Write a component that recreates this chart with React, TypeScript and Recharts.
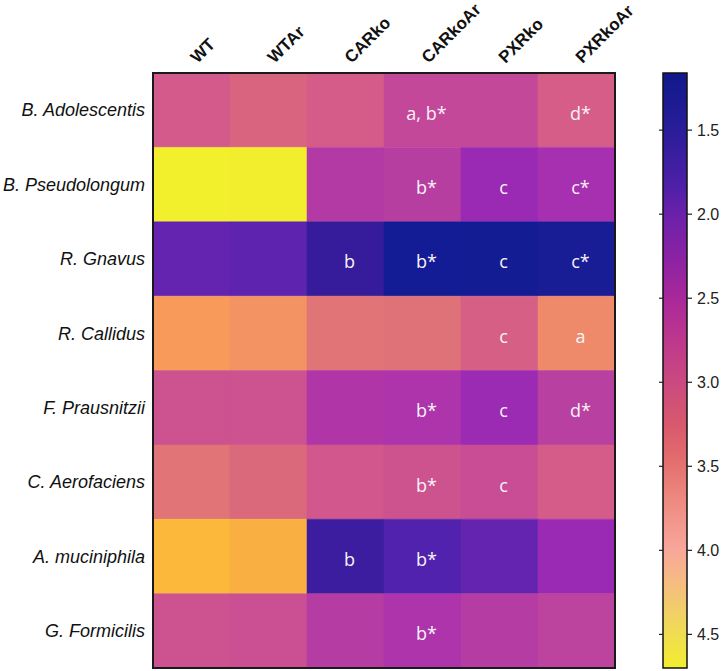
import React from 'react';
import { ComposedChart, XAxis, YAxis, ReferenceArea, Scatter } from 'recharts';

// ---- data ----
const groups = ['WT', 'WTAr', 'CARko', 'CARkoAr', 'PXRko', 'PXRkoAr'];
const species = [
  'B. Adolescentis',
  'B. Pseudolongum',
  'R. Gnavus',
  'R. Callidus',
  'F. Prausnitzii',
  'C. Aerofaciens',
  'A. muciniphila',
  'G. Formicilis',
];
const wt = [3.05, 4.8, 2.0, 4.0, 2.9, 3.5, 4.35, 2.9];
const wtAr = [3.2, 4.78, 1.95, 3.9, 2.9, 3.3, 4.25, 2.85];
const carKo = [3.08, 2.55, 1.6, 3.5, 2.5, 3.0, 1.65, 2.57];
const carKoAr = [2.7, 2.6, 1.25, 3.45, 2.45, 2.92, 1.82, 2.45];
const pxrKo = [2.7, 2.2, 1.26, 3.12, 2.22, 2.8, 2.0, 2.57];
const pxrKoAr = [3.1, 2.35, 1.3, 3.8, 2.62, 3.08, 2.2, 2.65];

const notesWt = ['', '', '', '', '', '', '', ''];
const notesWtAr = ['', '', '', '', '', '', '', ''];
const notesCarKo = ['', '', 'b', '', '', '', 'b', ''];
const notesCarKoAr = ['a, b*', 'b*', 'b*', '', 'b*', 'b*', 'b*', 'b*'];
const notesPxrKo = ['', 'c', 'c', 'c', 'c', 'c', '', ''];
const notesPxrKoAr = ['d*', 'c*', 'c*', 'a', 'd*', '', '', ''];

const colorbarTicks = [1.5, 2.0, 2.5, 3.0, 3.5, 4.0, 4.5];
const colorbarDomain = [1.16, 4.7];

// ---- styles ----
const cellStops: [number, string][] = [
  [1.25, '#131c94'],
  [1.6, '#361c9a'],
  [1.82, '#5022ae'],
  [2.0, '#6424b0'],
  [2.2, '#9a2ab4'],
  [2.35, '#a630b0'],
  [2.5, '#b036a8'],
  [2.62, '#b840a0'],
  [2.7, '#c4489a'],
  [2.9, '#cc5290'],
  [3.05, '#d45a8c'],
  [3.2, '#d8647f'],
  [3.5, '#e07476'],
  [3.8, '#ee8a6a'],
  [4.0, '#f79a5a'],
  [4.35, '#fbb83a'],
  [4.8, '#f2f02c'],
];
const barStops: [number, string][] = [
  [1.16, '#10198a'],
  [1.5, '#2a1d9a'],
  [1.8, '#4a1fa6'],
  [2.0, '#6a21aa'],
  [2.25, '#8a22a4'],
  [2.5, '#a8289a'],
  [2.75, '#bd388c'],
  [3.0, '#ca4a80'],
  [3.25, '#d8586e'],
  [3.45, '#e26c6c'],
  [3.7, '#ee8a80'],
  [4.0, '#f8a79a'],
  [4.2, '#f5bd80'],
  [4.45, '#f0d85a'],
  [4.7, '#f2ee2e'],
];

const hexToRgb = (h: string) => [
  parseInt(h.slice(1, 3), 16),
  parseInt(h.slice(3, 5), 16),
  parseInt(h.slice(5, 7), 16),
];
const colorFor = (v: number) => {
  if (v <= cellStops[0][0]) return cellStops[0][1];
  for (let i = 1; i < cellStops.length; i++) {
    const [v1, c1] = cellStops[i];
    const [v0, c0] = cellStops[i - 1];
    if (v <= v1) {
      const t = (v - v0) / (v1 - v0);
      const a = hexToRgb(c0);
      const b = hexToRgb(c1);
      const m = a.map((x, k) => Math.round(x + (b[k] - x) * t));
      return `rgb(${m[0]},${m[1]},${m[2]})`;
    }
  }
  return cellStops[cellStops.length - 1][1];
};

const columns = [wt, wtAr, carKo, carKoAr, pxrKo, pxrKoAr];
const noteColumns = [notesWt, notesWtAr, notesCarKo, notesCarKoAr, notesPxrKo, notesPxrKoAr];

const cells = columns.flatMap((vals, ci) =>
  vals.map((v, ri) => ({ col: ci, row: ri, value: v, note: noteColumns[ci][ri], x: ci + 0.5, y: ri + 0.5 }))
);
const noteData = cells.filter((c) => c.note !== '');

const SANS = '"Liberation Sans", Arial, sans-serif';

const ColTick = (props: any) => {
  const { x, y, payload } = props;
  const label = groups[Math.floor(payload.value)];
  const x0 = x + 6;
  const y0 = y - 7;
  return (
    <text
      x={x0}
      y={y0}
      transform={`rotate(-45, ${x0}, ${y0})`}
      textAnchor="start"
      fontFamily={SANS}
      fontWeight="bold"
      fontSize={17}
      fill="#111"
    >
      {label}
    </text>
  );
};

const RowTick = (props: any) => {
  const { x, y, payload } = props;
  const label = species[Math.floor(payload.value)];
  return (
    <text
      x={x}
      y={y}
      dy="0.35em"
      textAnchor="end"
      fontFamily={SANS}
      fontStyle="italic"
      fontSize={18}
      fill="#111"
    >
      {label}
    </text>
  );
};

const NoteShape = (props: any) => {
  const { cx, cy, payload } = props;
  return (
    <text
      x={cx + 4}
      y={cy + 9.5}
      textAnchor="middle"
      fontFamily='"Open Sans", sans-serif'
      fontSize={18}
      fill="#f8f2f8"
    >
      {payload.note}
    </text>
  );
};

export default function App() {
  const [d0, d1] = colorbarDomain;
  return (
    <div style={{ position: 'absolute', left: 0, top: 0, width: 722, height: 671, background: '#fff' }}>
      <div style={{ position: 'absolute', left: 0, top: 0 }}>
        <ComposedChart
          width={722}
          height={671}
          data={cells}
          margin={{ top: 0, right: 107, bottom: 3, left: 0 }}
        >
          <XAxis
            type="number"
            dataKey="x"
            orientation="top"
            domain={[0, 6]}
            ticks={[0.5, 1.5, 2.5, 3.5, 4.5, 5.5]}
            interval={0}
            height={73}
            axisLine={false}
            tickLine={false}
            tickSize={0}
            tickMargin={2}
            tick={<ColTick />}
            allowDataOverflow
          />
          <YAxis
            type="number"
            dataKey="y"
            domain={[0, 8]}
            reversed
            ticks={[0.5, 1.5, 2.5, 3.5, 4.5, 5.5, 6.5, 7.5]}
            interval={0}
            width={153}
            axisLine={false}
            tickLine={false}
            tickSize={0}
            tickMargin={8}
            tick={<RowTick />}
            allowDataOverflow
          />
          {cells.map((c) => (
            <ReferenceArea
              key={`${c.col}-${c.row}`}
              x1={c.col}
              x2={c.col + 1}
              y1={c.row}
              y2={c.row + 1}
              fill={colorFor(c.value)}
              fillOpacity={1}
              stroke={colorFor(c.value)}
              strokeWidth={0.5}
            />
          ))}
          <ReferenceArea x1={0} x2={6} y1={0} y2={8} fill="none" fillOpacity={0} stroke="#1a1a1a" strokeWidth={2} />
          <Scatter data={noteData} dataKey="y" shape={<NoteShape />} isAnimationActive={false} />
        </ComposedChart>
      </div>
      <div style={{ position: 'absolute', left: 0, top: 0 }}>
        <ComposedChart
          width={722}
          height={671}
          data={[{ x: 0 }, { x: 1 }]}
          margin={{ top: 73, right: 0, bottom: 3, left: 653 }}
        >
          <defs>
            <linearGradient id="cbarGrad" x1="0" y1="0" x2="0" y2="1">
              {barStops.map(([v, c]) => (
                <stop key={v} offset={`${((v - d0) / (d1 - d0)) * 100}%`} stopColor={c} />
              ))}
            </linearGradient>
          </defs>
          <XAxis type="number" dataKey="x" domain={[0, 1]} hide />
          <YAxis
            yAxisId="l"
            orientation="left"
            type="number"
            domain={colorbarDomain}
            reversed
            ticks={colorbarTicks}
            interval={0}
            width={10}
            axisLine={false}
            tickLine={{ stroke: '#222', strokeWidth: 1.2 }}
            tickSize={4}
            tick={() => <g />}
            allowDataOverflow
          />
          <YAxis
            yAxisId="r"
            orientation="right"
            type="number"
            domain={colorbarDomain}
            reversed
            ticks={colorbarTicks}
            interval={0}
            width={35}
            axisLine={false}
            tickLine={{ stroke: '#222', strokeWidth: 1.2 }}
            tickSize={5}
            tickMargin={5}
            tickFormatter={(v: number) => v.toFixed(1)}
            tick={{ fontSize: 16, fill: '#222', fontFamily: SANS }}
            allowDataOverflow
          />
          <ReferenceArea
            yAxisId="l"
            x1={0}
            x2={1}
            y1={d0}
            y2={d1}
            fill="url(#cbarGrad)"
            fillOpacity={1}
            stroke="#111"
            strokeWidth={1.5}
          />
        </ComposedChart>
      </div>
    </div>
  );
}
